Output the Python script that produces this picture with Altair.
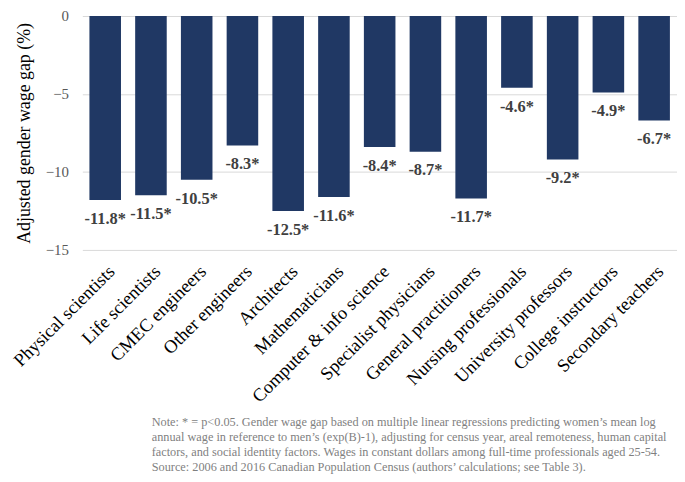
import altair as alt
import pandas as pd

occupations = ["Physical scientists", "Life scientists", "CMEC engineers", "Other engineers",
               "Architects", "Mathematicians", "Computer & info science", "Specialist physicians",
               "General practitioners", "Nursing professionals", "University professors",
               "College instructors", "Secondary teachers"]
gaps = [-11.8, -11.5, -10.5, -8.3, -12.5, -11.6, -8.4, -8.7, -11.7, -4.6, -9.2, -4.9, -6.7]
labels = [f"{v:.1f}*" for v in gaps]
y_ticks = [0, -5, -10, -15]
note_lines = [
    "Note: * = p<0.05. Gender wage gap based on multiple linear regressions predicting women\u2019s mean log",
    "annual wage in reference to men\u2019s (exp(B)-1), adjusting for census year, areal remoteness, human capital",
    "factors, and social identity factors. Wages in constant dollars among full-time professionals aged 25-54.",
    "Source: 2006 and 2016 Canadian Population Census (authors\u2019 calculations; see Table 3).",
]

df = pd.DataFrame({"occ": occupations, "gap": gaps, "label": labels})
FONT = "Liberation Serif"

x = alt.X("occ:N", sort=occupations, title=None,
          scale=alt.Scale(paddingInner=0.31, paddingOuter=0.155),
          axis=alt.Axis(labelAngle=-45, labelFontSize=18.5, labelColor="#000000", labelFont=FONT,
                        ticks=False, domain=False, labelPadding=12, labelLimit=300))
y = alt.Y("gap:Q", title="Adjusted gender wage gap (%)",
          scale=alt.Scale(domain=[-15, 0], nice=False),
          axis=alt.Axis(values=y_ticks, labelFontSize=15, labelColor="#595959", labelFont=FONT,
                        ticks=False, domain=False, labelPadding=14, grid=True, gridColor="#D9D9D9",
                        titleFont=FONT, titleFontSize=18, titleFontWeight="normal", titleColor="#000000",
                        titlePadding=12))

base = alt.Chart(df)
bars = base.mark_bar(color="#203864").encode(x=x, y=y)
text = base.mark_text(baseline="top", dy=11, fontSize=16.5, fontWeight="bold", font=FONT,
                      color="#404040").encode(x=alt.X("occ:N", sort=occupations), y="gap:Q", text="label:N")

note_df = pd.DataFrame({"t": ["\n".join(note_lines)]})
note = alt.Chart(note_df).mark_text(align="left", baseline="top", fontSize=12.4, font=FONT,
                                     color="#7F7F7F", lineBreak="\n", lineHeight=15).encode(
    x=alt.value(70), y=alt.value(404), text="t:N")

chart = alt.layer(bars, text, note).properties(
    width=600, height=236,
    autosize=alt.AutoSizeParams(type="none"),
    padding={"left": 75, "top": 6, "right": 0, "bottom": 224},
).configure_view(stroke=None)

chart.save("out.html", embed_options={"renderer": "svg", "actions": False})
